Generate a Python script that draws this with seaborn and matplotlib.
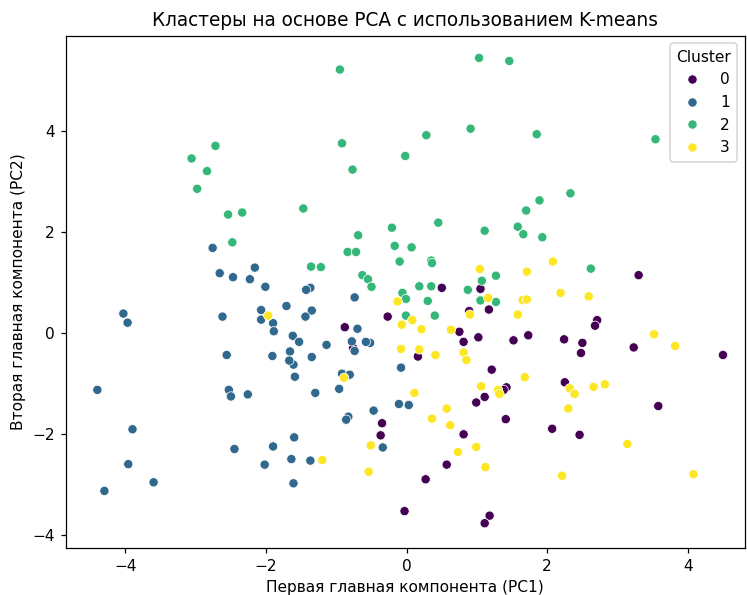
import pandas as pd
import seaborn as sns
import matplotlib.pyplot as plt

# Cluster 0
pc1_c0 = [3.30, 0.50, 1.05, 0.89, 1.17, -0.27, -0.88, 2.71, 2.68, -0.76, 0.75, 0.81, 1.02, 1.52,
          1.73, 2.24, 2.50, 2.48, 3.23, 4.50, 0.16, 1.21, 2.25, 1.42, 1.38, 1.11, 0.99, 1.41,
          3.58, 2.07, 2.46, 0.81, 0.57, 0.27, -0.03, 1.18, 1.11, -0.35, -0.37]
pc2_c0 = [1.14, 0.89, 0.87, 0.43, 0.46, 0.32, 0.11, 0.25, 0.14, -0.30, 0.02, -0.18, -0.09, -0.15,
          -0.05, -0.13, -0.20, -0.40, -0.29, -0.44, -0.47, -0.73, -0.98, -1.08, -1.13, -1.27, -1.38, -1.71,
          -1.45, -1.90, -2.02, -2.01, -2.61, -2.90, -3.53, -3.62, -3.77, -1.79, -2.03]

# Cluster 1
pc1_c1 = [-2.76, -2.66, -2.47, -2.16, -2.23, -2.01, -1.37, -1.43, -0.74, -0.70, -1.35, -1.44, -1.62,
          -1.53, -1.14, -0.78, -0.74, -0.52, -0.58, -1.66, -1.35, -1.61, -1.59, -0.08, -0.92, -0.81,
          -0.96, -1.30, -0.11, 0.03, -0.47, -0.83, -0.86, -0.34, -1.60, -1.64, -1.37, -1.61, -2.62,
          -2.07, -2.07, -1.90, -1.71, -1.89, -2.56, -1.91, -1.67, -2.53, -2.50, -2.26, -4.03, -3.97,
          -4.40, -3.90, -2.45, -1.90, -2.02, -3.96, -3.60, -4.30]
pc2_c1 = [1.68, 1.18, 1.10, 1.29, 1.06, 0.91, 0.89, 0.85, 0.70, 0.08, 0.44, 0.32, -0.06,
          -0.18, -0.24, -0.17, -0.36, -0.20, -0.18, -0.37, -0.48, -0.63, -0.87, -0.69, -0.81, -0.83,
          -1.11, -1.19, -1.41, -1.43, -1.54, -1.66, -1.72, -2.27, -2.07, -2.50, -2.53, -2.98, 0.32,
          0.45, 0.26, 0.19, 0.53, 0.03, -0.44, -0.46, -0.55, -1.13, -1.26, -1.22, 0.38, 0.20,
          -1.13, -1.91, -2.30, -2.25, -2.61, -2.60, -2.96, -3.13]

# Cluster 2
pc1_c2 = [-0.95, 1.03, 1.46, -0.92, 0.28, 0.91, -0.02, -0.77, -1.47, 1.85, 3.54, 2.33, 1.89, 1.70,
          1.58, 1.66, 1.93, 2.62, -2.72, -3.06, -2.84, -2.98, -2.54, -2.34, -2.48, -0.69, -0.21,
          0.45, 1.11, -0.84, -0.72, -0.17, 0.07, -0.10, 0.35, 0.36, -1.36, -1.22, -0.63, -0.55,
          -0.50, 0.18, 0.35, 0.87, 1.27, 1.07, -0.06, -0.01, 0.30, -0.01, 0.40, 1.05, 1.27]
pc2_c2 = [5.21, 5.44, 5.38, 3.75, 3.91, 4.04, 3.50, 3.23, 2.46, 3.93, 3.83, 2.76, 2.62, 2.42,
          2.10, 1.95, 1.89, 1.27, 3.70, 3.45, 3.20, 2.85, 2.34, 2.38, 1.79, 1.93, 2.08,
          2.18, 2.02, 1.60, 1.60, 1.72, 1.69, 1.41, 1.43, 1.38, 1.31, 1.30, 1.14, 1.06,
          0.91, 0.92, 0.92, 0.85, 1.13, 1.03, 0.79, 0.67, 0.63, 0.34, 0.34, 0.64, 0.61]

# Cluster 3
pc1_c3 = [2.08, 1.71, 1.04, 1.16, 2.19, 2.59, 1.65, 1.71, 1.58, -0.13, 0.90, -0.07, 0.08, 0.21,
          0.63, 3.52, 3.82, -1.97, -0.08, 0.18, 0.41, 0.81, 0.85, -0.89, 0.11, 1.06, 1.30, 1.32,
          1.68, 2.32, 2.39, 2.66, 2.82, 2.30, 0.57, 0.36, 0.62, 0.99, 0.73, 1.12, -0.51, -0.54,
          -1.20, 3.14, 2.21, 4.08]
pc2_c3 = [1.41, 1.21, 1.26, 0.69, 0.79, 0.72, 0.65, 0.66, 0.36, 0.62, 0.36, 0.16, 0.25, 0.07,
          0.06, -0.03, -0.26, 0.34, -0.32, -0.33, -0.44, -0.39, -0.54, -0.89, -1.19, -1.06, -1.13, -1.21,
          -0.88, -1.10, -1.21, -1.07, -1.02, -1.50, -1.50, -1.70, -1.83, -2.26, -2.36, -2.66, -2.23, -2.75,
          -2.52, -2.20, -2.83, -2.80]

frames = []
for k, (xs, ys) in enumerate([(pc1_c0, pc2_c0), (pc1_c1, pc2_c1), (pc1_c2, pc2_c2), (pc1_c3, pc2_c3)]):
    frames.append(pd.DataFrame({'PC1': xs, 'PC2': ys, 'Cluster': k}))
df = pd.concat(frames, ignore_index=True)

# slightly larger rendering scale than 100 dpi, as in the reference
fig = plt.figure(figsize=(747 / 111, 595 / 111), dpi=111)
ax = fig.add_axes([0.088, 0.079, 0.909, 0.861])

sns.scatterplot(data=df, x='PC1', y='PC2', hue='Cluster', palette='viridis', ax=ax)

ax.set_xlim(-4.85, 4.81)
ax.set_ylim(-4.26, 5.88)
ax.set_xticks([-4, -2, 0, 2, 4])
ax.set_yticks([-4, -2, 0, 2, 4])
ax.set_title('Кластеры на основе PCA с использованием K-means')
ax.set_xlabel('Первая главная компонента (PC1)')
ax.set_ylabel('Вторая главная компонента (PC2)')
ax.legend(title='Cluster', loc='upper right')

fig.savefig('out.png', dpi=111)
